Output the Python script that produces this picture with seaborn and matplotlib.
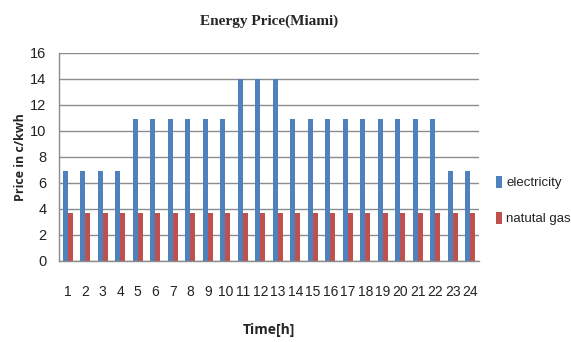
import matplotlib
matplotlib.use("Agg")
import matplotlib.pyplot as plt
import seaborn as sns
import pandas as pd

# Hourly energy prices (cents per kWh)
hours = list(range(1, 25))
electricity = [6.9, 6.9, 6.9, 6.9,
               10.9, 10.9, 10.9, 10.9, 10.9, 10.9,
               14.0, 14.0, 14.0,
               10.9, 10.9, 10.9, 10.9, 10.9, 10.9, 10.9, 10.9, 10.9,
               6.9, 6.9]
natural_gas = [3.7] * 24
series_names = ["electricity", "natutal gas"]
colors = ["#4F81BD", "#C0504D"]
y_ticks = [0, 2, 4, 6, 8, 10, 12, 14, 16]

df = pd.DataFrame({
    "hour": hours * 2,
    "price": electricity + natural_gas,
    "source": [series_names[0]] * 24 + [series_names[1]] * 24,
})

sns.set_theme(style="white")
plt.rcParams["font.family"] = ["Liberation Sans", "DejaVu Sans"]

fig = plt.figure(figsize=(5.71, 3.42), dpi=100)
ax = fig.add_axes([59 / 571, 81 / 342, 420 / 571, 208.3 / 342])

sns.barplot(data=df, x="hour", y="price", hue="source", hue_order=series_names,
            palette=colors, width=0.58, saturation=1, ax=ax, linewidth=0,
            errorbar=None)

ax.set_ylim(0, 16)
ax.set_yticks(y_ticks)
ax.yaxis.grid(True, color="#8C8C8C", linewidth=1.0)
ax.set_axisbelow(True)
for side in ["top", "right"]:
    ax.spines[side].set_visible(False)
for side in ["left", "bottom"]:
    ax.spines[side].set_color("#8C8C8C")
    ax.spines[side].set_linewidth(1.0)

ax.tick_params(axis="x", length=0, pad=17, labelsize=10, labelcolor="#222222")
ax.tick_params(axis="y", length=0, pad=9, labelsize=10.5, labelcolor="#222222")

ax.set_xlabel("Time[h]", fontsize=10, fontweight="bold",
              family=["Open Sans", "DejaVu Sans"])
ax.xaxis.set_label_coords(0.5, -0.30)
ax.set_ylabel("Price in c/kwh", fontsize=9, fontweight="bold",
              family=["Open Sans", "DejaVu Sans"])
ax.yaxis.set_label_coords(-0.075, 0.5)
ax.set_title("Energy Price(Miami)", fontsize=11, fontweight="bold",
             family=["Liberation Serif", "DejaVu Serif"], pad=20)

leg = ax.legend(loc="center left", bbox_to_anchor=(1.04, 0.29), frameon=False,
                handlelength=0.5, handleheight=1.0, handletextpad=0.3,
                labelspacing=1.7, fontsize=9.5, borderaxespad=0, borderpad=0)
for t in leg.get_texts():
    t.set_color("#222222")

fig.savefig("out.png", dpi=100)
